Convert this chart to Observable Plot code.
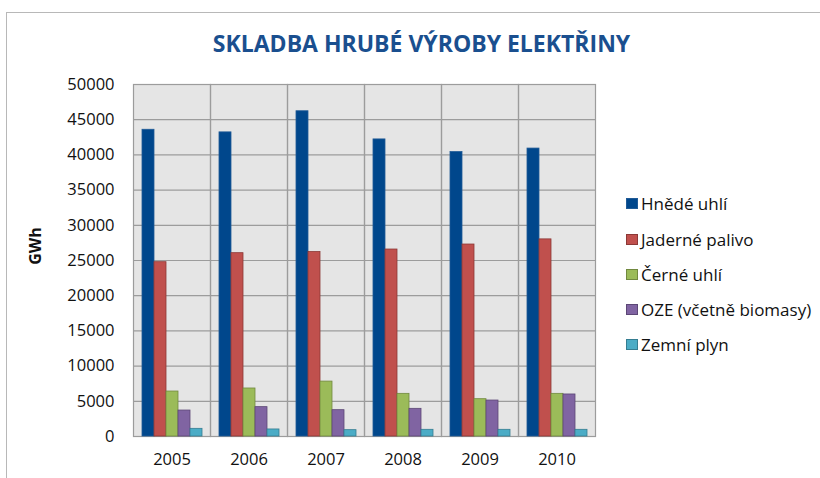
<!DOCTYPE html>
<html>
<head>
<meta charset="utf-8">
<script src="https://cdn.jsdelivr.net/npm/d3@7"></script>
<script src="https://cdn.jsdelivr.net/npm/@observablehq/plot@0.6"></script>
<style>
  html, body { margin: 0; padding: 0; background: #fff; }
  #wrap { position: relative; width: 820px; height: 478px; overflow: hidden; font-family: "Open Sans", sans-serif; }
  #border { position: absolute; left: 6px; top: 12px; width: 830px; height: 480px; border-left: 1px solid #b8b8b8; border-top: 1px solid #b8b8b8; }
  #title { position: absolute; left: 0; width: 843px; top: 27px; text-align: center; font-size: 23px; font-weight: bold; color: #1a4f8f; }
  #ylabel { position: absolute; left: 35px; top: 246px; transform: translate(-50%, -50%) rotate(-90deg); font-size: 16px; font-weight: bold; color: #111; white-space: nowrap; }
  #chart { position: absolute; left: 0; top: 70px; }
  #legend { position: absolute; left: 626px; top: 186.4px; }
  .li { display: flex; align-items: center; height: 35.2px; font-size: 17px; color: #111; white-space: nowrap; }
  .sw { width: 12px; height: 11px; margin-right: 3px; box-sizing: border-box; }
</style>
</head>
<body>
<div id="wrap">
  <div id="border"></div>
  <div id="title"></div>
  <div id="ylabel"></div>
  <div id="chart"></div>
  <div id="legend"></div>
</div>
<script>
const title = "SKLADBA HRUBÉ VÝROBY ELEKTŘINY";
const yLabel = "GWh";
const years = ["2005", "2006", "2007", "2008", "2009", "2010"];
const series = ["Hnědé uhlí", "Jaderné palivo", "Černé uhlí", "OZE (včetně biomasy)", "Zemní plyn"];
const hnedeUhli = [43570, 43200, 46200, 42200, 40400, 40900];
const jadernePalivo = [24760, 26040, 26200, 26560, 27270, 28000];
const cerneUhli = [6390, 6820, 7800, 6060, 5300, 6060];
const oze = [3690, 4170, 3740, 3930, 5110, 5970];
const zemniPlyn = [1090, 1000, 900, 950, 950, 950];
const yTicks = [0, 5000, 10000, 15000, 20000, 25000, 30000, 35000, 40000, 45000, 50000];
const fills = ["#00478c", "#c0504d", "#9bbb59", "#8064a2", "#4bacc6"];
const strokes = ["#1f5a96", "#8c3836", "#71893f", "#5c4776", "#357d91"];

const seriesValues = [hnedeUhli, jadernePalivo, cerneUhli, oze, zemniPlyn];
const data = [];
series.forEach((s, i) => years.forEach((y, j) => data.push({year: y, series: s, value: seriesValues[i][j]})));

document.getElementById("title").textContent = title;
document.getElementById("ylabel").textContent = yLabel;

const chart = Plot.plot({
  width: 820,
  height: 408,
  marginTop: 14,
  marginBottom: 42,
  marginLeft: 131,
  marginRight: 224,
  style: {fontFamily: "Open Sans, sans-serif", fontSize: "16.5px", color: "#111", background: "transparent"},
  fx: {domain: years, padding: 0, label: null, axis: "bottom", tickSize: 0, tickPadding: 17},
  x: {domain: series, paddingInner: 0, paddingOuter: 0.65, axis: null},
  y: {domain: [0, 50000], ticks: yTicks, tickFormat: d => String(d), tickSize: 0, tickPadding: 19, label: null},
  marks: [
    Plot.frame({fill: "#e5e5e5"}),
    Plot.ruleY(yTicks, {stroke: "#9c9c9c", strokeWidth: 1.2}),
    Plot.frame({stroke: "#9c9c9c", strokeWidth: 1.2}),
    ...series.map((s, i) => Plot.barY(data.filter(d => d.series === s), {
      fx: "year", x: "series", y: "value", fill: fills[i], stroke: strokes[i], strokeWidth: 0.8, inset: 0
    }))
  ]
});
document.getElementById("chart").appendChild(chart);

const legend = document.getElementById("legend");
series.forEach((s, i) => {
  const row = document.createElement("div");
  row.className = "li";
  const sw = document.createElement("span");
  sw.className = "sw";
  sw.style.background = fills[i];
  sw.style.border = "1px solid " + strokes[i];
  const t = document.createElement("span");
  t.textContent = s;
  row.appendChild(sw);
  row.appendChild(t);
  legend.appendChild(row);
});
</script>
</body>
</html>
